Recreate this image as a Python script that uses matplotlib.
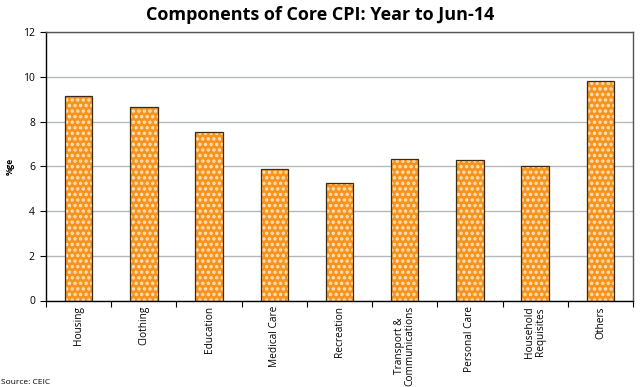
import matplotlib
matplotlib.use("Agg")
import matplotlib.pyplot as plt
import numpy as np

categories = ["Housing", "Clothing", "Education", "Medical Care", "Recreation",
              "Transport &\nCommunications", "Personal Care", "Household\nRequisites", "Others"]
values = [9.15, 8.66, 7.55, 5.87, 5.25, 6.32, 6.26, 6.01, 9.83]

plt.rcParams['font.family'] = ['Open Sans', 'DejaVu Sans']
plt.rcParams['hatch.linewidth'] = 1.6

fig = plt.figure(figsize=(6.41, 3.87), dpi=100)
ax = fig.add_axes([46/641, 1 - 300.5/387, 587/641, 268.5/387])

x = np.arange(len(categories)) + 0.5
ax.bar(x, values, width=0.42, color='#f7941d', edgecolor='#fde3c2', hatch='...', linewidth=0, zorder=2)
ax.bar(x, values, width=0.42, fill=False, edgecolor='#3a2a10', linewidth=0.9, zorder=3)

ax.set_xlim(0, len(categories))
ax.set_ylim(0, 12)
ax.set_yticks(range(0, 13, 2))
ax.set_xticks(range(0, len(categories) + 1))
ax.set_xticklabels([])
ax.set_xticks(x, minor=True)
ax.set_xticklabels(categories, minor=True, rotation=90, fontsize=7.3, linespacing=1.0)
ax.tick_params(axis='x', which='minor', length=0, pad=4)
ax.tick_params(axis='x', which='major', length=4, direction='out', width=0.8)
ax.tick_params(axis='y', length=4, direction='out', width=0.8, labelsize=7.5, pad=4)
ax.yaxis.grid(True, color='#b4b8bc', linewidth=1.0, zorder=0)
ax.set_axisbelow(True)
for s in ax.spines.values():
    s.set_color('#555555')
    s.set_linewidth(1.0)
ax.spines['left'].set_color('black')
ax.spines['bottom'].set_color('black')

ax.set_ylabel('%ge', fontsize=6, fontweight='bold', labelpad=6)
fig.suptitle('Components of Core CPI: Year to Jun-14', fontsize=13, fontweight='bold', y=0.985)
fig.text(0.001, 0.003, 'Source: CEIC', fontsize=6, ha='left', va='bottom')

fig.savefig('out.png', dpi=100)
